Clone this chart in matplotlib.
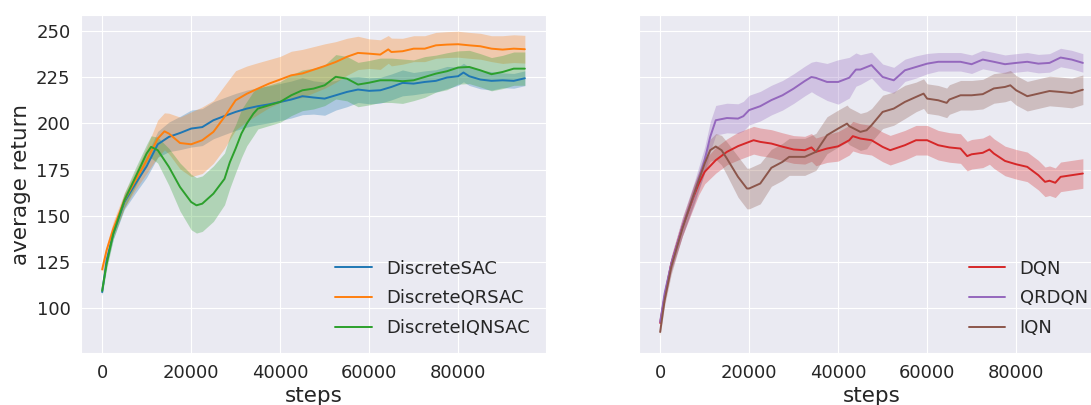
import matplotlib
matplotlib.use("Agg")
import matplotlib.pyplot as plt
import seaborn as sns
import numpy as np

sns.set_style("darkgrid")
plt.rcParams['font.family'] = ['DejaVu Sans']

# ---------------- data (left panel) ----------------
sac_steps = [0, 1000, 2500, 5000, 7500, 10000, 12500, 15000, 17500, 20000, 22500, 25000, 27500, 30000,
             32500, 35000, 37500, 40000, 42500, 45000, 47500, 50000, 52500, 55000, 57500, 60000, 62500,
             65000, 67500, 70000, 72500, 75000, 77500, 80000, 81200, 82500, 85000, 87500, 90000, 92500, 95000]
sac_mean = [108.8, 126, 140.4, 157.5, 167.4, 176.8, 188.7, 192.7, 194.8, 197.2, 198, 201.7, 204, 206.2,
            208, 209.3, 210.3, 211.6, 212.9, 214.7, 214, 213.4, 215.2, 217, 218.3, 217.6, 217.9,
            219.7, 221.9, 221.5, 222.4, 223, 224.8, 225.5, 227.5, 225.5, 223.7, 223, 223.3, 223, 224.4]
sac_band = [2, 3, 3, 4, 5, 6, 7, 8, 9, 10, 10, 10, 10, 10, 10, 10, 10, 10, 10, 10, 9, 9, 8, 8, 7, 7, 7,
            7, 7, 6, 6, 6, 6, 5, 5, 5, 5, 5, 4, 4, 4]

qrsac_steps = [0, 1000, 2500, 5000, 7500, 10000, 12500, 14000, 15000, 17500, 20000, 22500, 25000, 27500,
               30000, 32500, 35000, 37500, 40000, 42500, 45000, 47500, 50000, 52500, 55000, 57500, 60000,
               62500, 64300, 65000, 67500, 70000, 72500, 75000, 77500, 80000, 82500, 85000, 87500, 90000,
               92500, 95000]
qrsac_mean = [121, 131.4, 143, 158.4, 169.2, 180, 191.8, 195.7, 194.5, 189.4, 188.7, 190.9, 195.4, 203.5,
              212.5, 216, 218.8, 221.5, 223.7, 226, 227, 229, 231, 233.2, 236, 238.1, 237.7,
              237.2, 240, 238.6, 239, 240.4, 240.4, 242.2, 242.6, 242.8, 242.2, 241.7, 240.4, 239.9,
              240.4, 240.1]
qrsac_band = [3, 3, 4, 4, 5, 7, 10, 10, 11, 14, 17.5, 18, 17, 17, 16, 15, 14, 13, 12.5, 13, 13, 12.5, 12,
              11, 10, 9, 8, 8, 7.5, 7.5, 7, 7, 7, 7, 7, 7, 7, 7, 7, 7.5, 7.5, 7.5]

iqnsac_steps = [0, 1000, 2500, 5000, 7500, 10000, 11000, 12500, 15000, 17500, 20000, 21200, 22500, 25000,
                27500, 28700, 30000, 31300, 32500, 34000, 35000, 37500, 40000, 42500, 45000, 47500, 50000,
                52500, 55000, 57500, 60000, 62500, 65000, 67500, 70000, 72500, 75000, 77500, 80000, 82500,
                85000, 87500, 90000, 92500, 95000]
iqnsac_mean = [109.5, 124, 140.4, 158.4, 171, 183.7, 187.3, 185.5, 176.5, 165.6, 157.5, 155.7, 156.6, 162,
               170, 179, 186.4, 194.5, 199.9, 205.3, 208, 209.8, 211.6, 215.2, 217.9, 218.8, 220.6,
               225.2, 224.2, 221, 222, 223.3, 223.3, 222.8, 223.3, 225.1, 226.9, 228.2, 230.2, 230.5,
               228.7, 226.6, 227.8, 229.6, 229.6]
iqnsac_band = [2, 3, 3, 4, 5, 5, 6, 7, 10, 13, 15, 15, 15, 15, 14, 14, 13, 13, 12, 12, 11, 11, 11, 11, 11,
               11, 11, 12, 12, 12, 12, 12, 12, 12, 11, 11, 10, 10, 9, 9, 9, 9, 9, 9, 9]

# ---------------- data (right panel) ----------------
dqn_steps = [0, 1000, 2500, 5000, 7500, 8700, 10000, 12500, 15000, 17500, 20000, 21000, 22500, 25000, 27500,
             30000, 32500, 34000, 35000, 37500, 40000, 42500, 43300, 45000, 47500, 50000, 51700, 55000, 57500,
             60000, 62500, 65000, 67500, 69000, 70000, 72500, 74000, 75000, 77500, 80000, 82500, 85000,
             86500, 87500, 88800, 90000, 92500, 95000]
dqn_mean = [92.1, 106.2, 124.2, 144, 160.3, 167.5, 173.8, 180.1, 184.6, 187.7, 190, 190.9, 190, 189.1, 187.4,
            185.9, 185.5, 187, 184.6, 186.4, 187.6, 190.9, 193.1, 191.8, 190.9, 187.3, 185.5, 188.2, 190.9,
            190.9, 188.2, 187, 186.4, 182.3, 183.3, 184.1, 185.9, 183.7, 179.7, 177.9, 176.5, 172,
            168.4, 169, 167.9, 171.1, 172, 172.9]
dqn_band = [2, 3, 4, 5, 6, 6, 6.5, 7, 7, 7.5, 7.5, 7.5, 7.5, 7.5, 7.5, 7.5, 7.5, 7.5, 7.5, 7.5,
            8, 8, 8, 8, 8, 8, 8, 8, 8, 8, 8, 8, 8, 8, 8, 8, 8, 8, 8, 8, 8, 8, 8, 8, 8, 8, 8, 8]

qrdqn_steps = [0, 1000, 2500, 5000, 7500, 10000, 11250, 12500, 15000, 17500, 18700, 20000, 22500, 25000,
               27500, 30000, 32500, 34000, 35000, 37500, 40000, 42500, 44000, 45000, 47500, 50000, 52500,
               55000, 57500, 60000, 62500, 65000, 67500, 70000, 72500, 75000, 77500, 80000, 82500, 85000,
               87500, 90000, 92500, 95000]
qrdqn_mean = [92.6, 108, 124.2, 144, 161.1, 180.1, 192.7, 201.7, 202.9, 202.6, 203.9, 207.2, 209.3, 212.6,
              215.2, 218.8, 222.9, 225.1, 224.6, 222.4, 222.4, 224.7, 229.1, 229.1, 231.5, 225.1, 223.3,
              228.7, 230.5, 232.3, 233.3, 233.3, 233.3, 232, 234.5, 233.3, 232, 232.7, 233.3, 232.3,
              232.7, 235.6, 234.5, 232.7]
qrdqn_band = [2, 3, 4, 5, 6, 7, 8, 8, 8, 8, 8, 8, 8, 8, 8, 8, 8, 8, 9, 10, 12, 11, 9, 8, 7, 7, 7, 6, 6, 5.5,
              5, 5, 5, 5, 5, 5, 5, 5, 5, 5, 5, 5, 5, 5]

iqn_steps = [0, 1000, 2500, 5000, 7500, 10000, 11250, 12500, 13800, 15000, 17500, 19500, 20000, 22500, 25000,
             27500, 29000, 30000, 32500, 35000, 37500, 40000, 42000, 42500, 45000, 46400, 47500, 50000, 52500,
             55000, 57500, 59200, 60000, 62500, 64400, 65000, 67500, 70000, 72500, 75000, 77500, 78700,
             80000, 82500, 85000, 87500, 90000, 92500, 95000]
iqn_mean = [87.2, 104.4, 122.4, 143.1, 161.1, 178.3, 185.5, 187.5, 185.5, 181, 171.1, 164.8, 164.8, 167.5, 176,
            179.2, 181.9, 181.9, 181.9, 184.6, 193.6, 197.2, 199.9, 198.5, 195.4, 196.3, 199, 206.2, 208,
            211.6, 214.3, 216.1, 213.4, 212.5, 211.1, 212.9, 215.2, 215.2, 215.8, 218.9, 219.7, 220.6,
            217.9, 214.7, 216.1, 217.5, 217, 216.4, 218.2]
iqn_band = [2, 3, 4, 4, 5, 5, 6, 7, 8, 9, 11, 11, 11, 11, 10, 10, 10, 10, 10, 10, 10, 10, 10, 10, 10, 10,
            9, 9, 9, 9, 8, 8, 8, 8, 8, 8, 8, 8, 8, 8, 8, 8, 8, 8, 8, 8, 8, 8, 8]

left_labels = ["DiscreteSAC", "DiscreteQRSAC", "DiscreteIQNSAC"]
right_labels = ["DQN", "QRDQN", "IQN"]
y_ticks = [100, 125, 150, 175, 200, 225, 250]
x_ticks = [0, 20000, 40000, 60000, 80000]

left_series = [(sac_steps, sac_mean, sac_band, "#1f77b4"),
               (qrsac_steps, qrsac_mean, qrsac_band, "#ff7f0e"),
               (iqnsac_steps, iqnsac_mean, iqnsac_band, "#2ca02c")]
right_series = [(dqn_steps, dqn_mean, dqn_band, "#d62728"),
                (qrdqn_steps, qrdqn_mean, qrdqn_band, "#9467bd"),
                (iqn_steps, iqn_mean, iqn_band, "#8c564b")]

fig = plt.figure(figsize=(10.91, 4.05), dpi=100)
ax1 = fig.add_axes([81 / 1091, 51.7 / 405, 465 / 1091, 338.3 / 405])
ax2 = fig.add_axes([639 / 1091, 51.7 / 405, 465 / 1091, 338.3 / 405])

for ax, series, labels in [(ax1, left_series, left_labels), (ax2, right_series, right_labels)]:
    for (st, mn, bd, col), lab in zip(series, labels):
        st = np.asarray(st, float)
        mn = np.asarray(mn, float)
        bd = np.asarray(bd, float)
        ax.fill_between(st, mn - bd, mn + bd, color=col, alpha=0.3, linewidth=0)
        ax.plot(st, mn, color=col, lw=1.4, label=lab)
    ax.set_xlim(-4750, 99750)
    ax.set_ylim(75.7, 258.6)
    ax.set_xticks(x_ticks)
    ax.set_yticks(y_ticks)
    ax.tick_params(labelsize=13, pad=4)
    ax.set_xlabel("steps", fontsize=15.5, labelpad=3)
    ax.legend(loc="lower right", frameon=False, fontsize=13, borderaxespad=0.5,
              handlelength=2.0, labelspacing=0.65)

ax1.set_ylabel("average return", fontsize=15.5)
ax2.set_yticklabels([])

fig.savefig("out.png", dpi=100)
